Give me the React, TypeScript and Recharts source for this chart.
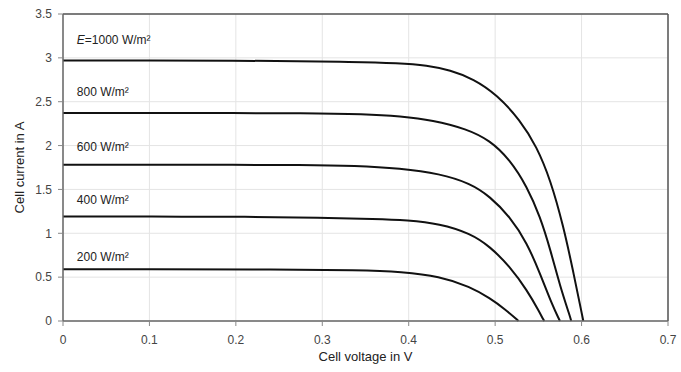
import React from 'react';
import { LineChart, Line, XAxis, YAxis, CartesianGrid, ReferenceLine, ReferenceDot, Label } from 'recharts';

const xTicks = [0, 0.1, 0.2, 0.3, 0.4, 0.5, 0.6, 0.7];
const yTicks = [0, 0.5, 1, 1.5, 2, 2.5, 3, 3.5];

const curve1000 = [
  { v: 0, i: 2.97 }, { v: 0.1, i: 2.97 }, { v: 0.2, i: 2.97 }, { v: 0.274, i: 2.96 },
  { v: 0.33, i: 2.955 }, { v: 0.39, i: 2.94 }, { v: 0.421, i: 2.915 }, { v: 0.448, i: 2.86 },
  { v: 0.475, i: 2.76 }, { v: 0.502, i: 2.58 }, { v: 0.529, i: 2.29 }, { v: 0.548, i: 1.99 },
  { v: 0.564, i: 1.61 }, { v: 0.579, i: 1.08 }, { v: 0.59, i: 0.58 }, { v: 0.601, i: 0.05 }, { v: 0.602, i: 0 },
];
const curve800 = [
  { v: 0, i: 2.37 }, { v: 0.1, i: 2.37 }, { v: 0.2, i: 2.37 }, { v: 0.274, i: 2.37 },
  { v: 0.351, i: 2.36 }, { v: 0.39, i: 2.335 }, { v: 0.428, i: 2.29 }, { v: 0.467, i: 2.19 },
  { v: 0.494, i: 2.06 }, { v: 0.517, i: 1.84 }, { v: 0.537, i: 1.53 }, { v: 0.552, i: 1.19 },
  { v: 0.564, i: 0.81 }, { v: 0.575, i: 0.4 }, { v: 0.587, i: 0.04 }, { v: 0.588, i: 0 },
];
const curve600 = [
  { v: 0, i: 1.78 }, { v: 0.1, i: 1.78 }, { v: 0.2, i: 1.78 }, { v: 0.274, i: 1.78 },
  { v: 0.34, i: 1.77 }, { v: 0.39, i: 1.74 }, { v: 0.436, i: 1.68 }, { v: 0.471, i: 1.57 },
  { v: 0.494, i: 1.42 }, { v: 0.517, i: 1.19 }, { v: 0.537, i: 0.89 }, { v: 0.552, i: 0.54 },
  { v: 0.567, i: 0.16 }, { v: 0.574, i: 0.02 }, { v: 0.575, i: 0 },
];
const curve400 = [
  { v: 0, i: 1.19 }, { v: 0.1, i: 1.19 }, { v: 0.216, i: 1.19 }, { v: 0.297, i: 1.175 },
  { v: 0.363, i: 1.165 }, { v: 0.398, i: 1.15 }, { v: 0.436, i: 1.11 }, { v: 0.471, i: 1.0 },
  { v: 0.494, i: 0.85 }, { v: 0.517, i: 0.62 }, { v: 0.537, i: 0.35 }, { v: 0.552, i: 0.09 },
  { v: 0.556, i: 0.01 }, { v: 0.557, i: 0 },
];
const curve200 = [
  { v: 0, i: 0.59 }, { v: 0.1, i: 0.59 }, { v: 0.216, i: 0.59 }, { v: 0.351, i: 0.58 },
  { v: 0.39, i: 0.56 }, { v: 0.436, i: 0.51 }, { v: 0.471, i: 0.39 }, { v: 0.494, i: 0.26 },
  { v: 0.512, i: 0.13 }, { v: 0.526, i: 0.01 }, { v: 0.527, i: 0 },
];

const curves = [curve1000, curve800, curve600, curve400, curve200];

const labels = [
  { v: 0.016, i: 3.2, italic: 'E', text: '=1000 W/m²' },
  { v: 0.016, i: 2.61, italic: '', text: '800 W/m²' },
  { v: 0.016, i: 1.98, italic: '', text: '600 W/m²' },
  { v: 0.016, i: 1.38, italic: '', text: '400 W/m²' },
  { v: 0.016, i: 0.73, italic: '', text: '200 W/m²' },
];

const FONT = 'Liberation Sans, Arial, sans-serif';

const makeLabel = (italic: string, text: string) => (props: any) => {
  const vb = props.viewBox || {};
  const x = (vb.x ?? 0) + (vb.width ?? 0) / 2;
  const y = (vb.y ?? 0) + (vb.height ?? 0) / 2;
  return (
    <text x={x} y={y} dy={4} fontFamily={FONT} fontSize={12} fill="#222" textAnchor="start">
      {italic ? <tspan fontStyle="italic">{italic}</tspan> : null}
      <tspan>{text}</tspan>
    </text>
  );
};

export default function App() {
  return (
    <div style={{ position: 'absolute', left: 0, top: 0, width: 681, height: 372, background: '#fff' }}>
      <LineChart width={681} height={372} margin={{ top: 14, right: 13, left: 0, bottom: 0 }}>
        <CartesianGrid stroke="#e4e4e4" strokeWidth={1} />
        <XAxis
          type="number"
          dataKey="v"
          domain={[0, 0.7]}
          ticks={xTicks}
          allowDataOverflow
          height={51}
          axisLine={{ stroke: '#666', strokeWidth: 1.5 }}
          tickLine={{ stroke: '#888' }}
          tickSize={5}
          tickMargin={9}
          tick={{ fill: '#444', fontSize: 12, fontFamily: FONT }}
          tickFormatter={(t: number) => String(t)}
        >
          <Label value="Cell voltage in V" position="insideBottom" offset={11} style={{ fill: '#222', fontSize: 13, fontFamily: FONT }} />
        </XAxis>
        <YAxis
          type="number"
          dataKey="i"
          domain={[0, 3.5]}
          ticks={yTicks}
          width={63}
          axisLine={{ stroke: '#666', strokeWidth: 1.5 }}
          tickLine={{ stroke: '#888' }}
          tickSize={5}
          tickMargin={6}
          tick={{ fill: '#444', fontSize: 12, fontFamily: FONT }}
          tickFormatter={(t: number) => String(t)}
        >
          <Label value="Cell current in A" angle={-90} position="insideLeft" offset={19} style={{ fill: '#222', fontSize: 13, fontFamily: FONT, textAnchor: 'middle' }} />
        </YAxis>
        <ReferenceLine y={3.5} stroke="#555" strokeWidth={1.5} />
        <ReferenceLine x={0.7} stroke="#555" strokeWidth={1.5} />
        {curves.map((c, idx) => (
          <Line
            key={idx}
            data={c}
            dataKey="i"
            type="basis"
            stroke="#111"
            strokeWidth={2}
            dot={false}
            isAnimationActive={false}
          />
        ))}
        {labels.map((l, idx) => (
          <ReferenceDot key={'l' + idx} x={l.v} y={l.i} r={0} stroke="none" fill="none" label={makeLabel(l.italic, l.text)} />
        ))}
      </LineChart>
    </div>
  );
}
